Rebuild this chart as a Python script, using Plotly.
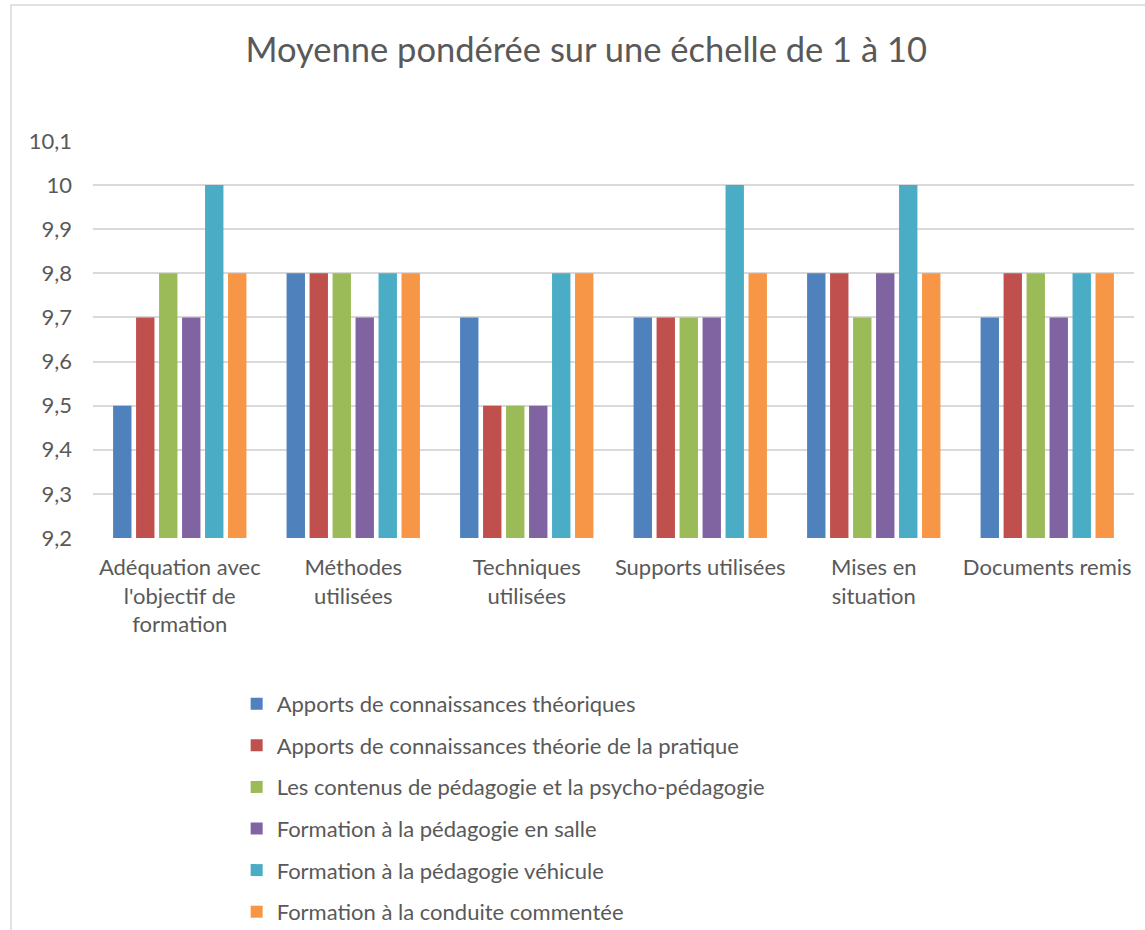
import plotly.graph_objects as go

################################################################################
# data
categories = ["Adéquation avec<br>l'objectif de<br>formation", "Méthodes<br>utilisées",
              "Techniques<br>utilisées", "Supports utilisées", "Mises en<br>situation",
              "Documents remis"]

series_names = ["Apports de connaissances théoriques",
                "Apports de connaissances théorie de la pratique",
                "Les contenus de pédagogie et la psycho-pédagogie",
                "Formation à la pédagogie en salle",
                "Formation à la pédagogie véhicule",
                "Formation à la conduite commentée"]

theoriques = [9.5, 9.8, 9.7, 9.7, 9.8, 9.7]
pratique = [9.7, 9.8, 9.5, 9.7, 9.8, 9.8]
contenus = [9.8, 9.8, 9.5, 9.7, 9.7, 9.8]
salle = [9.7, 9.7, 9.5, 9.7, 9.8, 9.7]
vehicule = [10, 9.8, 9.8, 10, 10, 9.8]
conduite = [9.8, 9.8, 9.8, 9.8, 9.8, 9.8]

colors = ["#4F81BD", "#C0504D", "#9BBB59", "#8064A2", "#4BACC6", "#F79646"]

################################################################################
font = "Lato"
grey = "#595959"

fig = go.Figure()
for i, (name, vals, col) in enumerate(zip(series_names, [theoriques, pratique, contenus, salle, vehicule, conduite], colors)):
    fig.add_trace(go.Bar(x=categories, y=vals, name=name, legendgroup="g%d" % i,
                         marker=dict(color=col, line=dict(width=0))))

fig.update_layout(
    width=1145, height=930,
    paper_bgcolor="white", plot_bgcolor="white",
    separators=",.",
    barmode="group", bargap=0.205, bargroupgap=0.2,
    margin=dict(l=93, r=11, t=141, b=392, autoexpand=False),
    font=dict(family=font, color=grey, size=20),
    title=dict(text="Moyenne pondérée sur une échelle de 1 à 10", x=0.512, xanchor="center",
               y=1 - 50 / 930, yanchor="middle", font=dict(size=34.5, color=grey, family=font)),
    xaxis=dict(showline=False, ticks="", tickfont=dict(size=22), tickangle=0, automargin=False,
               ticklabelstandoff=14),
    yaxis=dict(range=[9.2, 10.1], dtick=0.1, tick0=9.2, showgrid=True, gridcolor="#D9D9D9",
               gridwidth=1.5, zeroline=False, showline=False, ticks="",
               tickfont=dict(size=22), automargin=False, ticklabelstandoff=20),
    legend=dict(orientation="v", x=0.138, xanchor="left", y=-0.365, yanchor="top",
                font=dict(size=22, color=grey), tracegroupgap=10, itemwidth=30,
                traceorder="grouped"),
    shapes=[dict(type="rect", xref="paper", yref="paper", x0=-0.0788, x1=1.03, y0=-1.1, y1=1.3426,
                 line=dict(color="#D9D9D9", width=1.5), fillcolor="rgba(0,0,0,0)", layer="below")],
)

# no page margin around the chart
fig.write_html("out.html", config={"displayModeBar": False},
               post_script="document.body.style.margin='0';")
